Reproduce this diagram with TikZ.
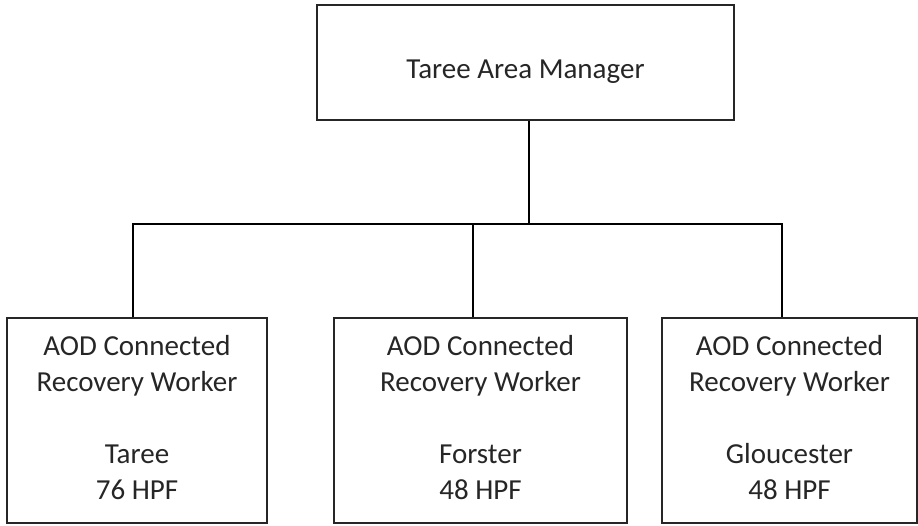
\documentclass[tikz,border=0pt]{standalone}
\usepackage{fontspec}
\setmainfont{Carlito}
\begin{document}
\begin{tikzpicture}[x=1pt, y=-1pt, line width=1.3pt,
    main/.style = {draw=black!85, text=black!85, align=center, inner sep=0pt,
                   font=\fontsize{29}{36}\selectfont}]
      \useasboundingbox (0,0) rectangle (918,526);

      \node[main, minimum width=417, minimum height=115, text height=36pt] (1) at (525.5,62.5) {Taree Area Manager};

      \node[main, minimum width=260, minimum height=205, text depth=7pt] (2) at (137,420.5)
            {AOD Connected\\Recovery Worker\\[36pt]Taree\\76 HPF};
      \node[main, minimum width=293, minimum height=205, text depth=7pt] (3) at (480.5,420.5)
            {AOD Connected\\Recovery Worker\\[36pt]Forster\\48 HPF};
      \node[main, minimum width=255, minimum height=205, text depth=7pt] (4) at (789.5,420.5)
            {AOD Connected\\Recovery Worker\\[36pt]Gloucester\\48 HPF};

      \coordinate (bus) at (529,224);

      \draw ([xshift=3.5]1.south) -- (bus);
      \draw ([xshift=-4]2.north) |- (bus);
      \draw (bus) -| ([xshift=-7.5]4.north);
      \draw ([xshift=-7.5]3.north) -- ([xshift=-7.5]3.north |- bus);
    \end{tikzpicture}
\end{document}
